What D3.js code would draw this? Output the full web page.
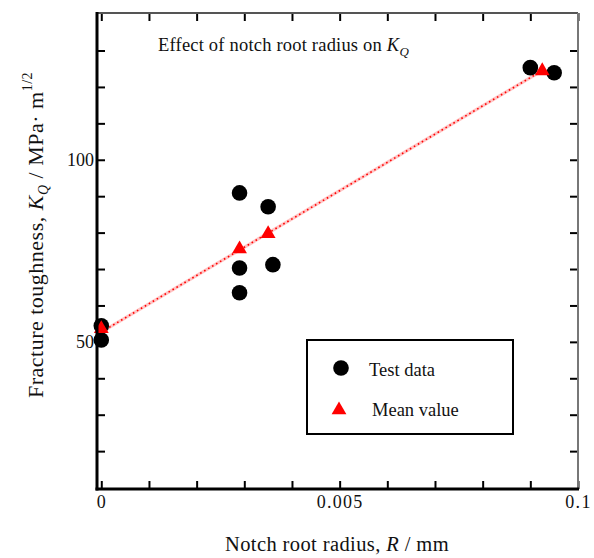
<!DOCTYPE html>
<html>
<head>
<meta charset="utf-8">
<script src="https://cdn.jsdelivr.net/npm/d3@7"></script>
<style>
  html, body { margin: 0; padding: 0; background: #fff; }
  svg text { font-family: "Liberation Serif", "Times New Roman", serif; fill: #111; }
</style>
</head>
<body>
<svg id="chart" width="594" height="558"></svg>
<script>
// ---- data ----
const testR = [0, 0, 0.0029, 0.0029, 0.0029, 0.0035, 0.0036, 0.0090, 0.0095];
const testK = [54.4, 50.5, 90.9, 70.3, 63.5, 87.1, 71.2, 125.3, 123.9];
const meanR = [0, 0.0029, 0.0035, 0.00925];
const meanK = [53.6, 75.5, 79.7, 124.4];
const fitR = [0, 0.00925];
const fitK = [52.7, 124.5];

const xTickMarks = [0, 0.001, 0.002, 0.003, 0.004, 0.005, 0.006, 0.007, 0.008, 0.009, 0.01];
const xTickValues = [0, 0.005, 0.01];
const xTickLabels = ["0", "0.005", "0.1"];
const yTickMarks = [20, 30, 40, 50, 60, 70, 80, 90, 100, 110, 120, 130];
const yTickValues = [50, 100];
const yTickLabels = ["50", "100"];

const xDomain = [-0.00009, 0.01];
const yDomain = [9.6, 140.3];

// ---- layout ----
const svg = d3.select("#chart");
const L = 97, R = 578, T = 13, B = 489;
const x = d3.scaleLinear().domain(xDomain).range([L, R]);
const y = d3.scaleLinear().domain(yDomain).range([B, T]);
const tickLen = 8;

// regression line
const fit = fitR.map((r, i) => [r, fitK[i]]);
const line = d3.line().x(d => x(d[0])).y(d => y(d[1]));
svg.append("path").datum(fit).attr("d", line)
  .attr("fill", "none").attr("stroke", "rgba(255,90,90,0.35)").attr("stroke-width", 3.2);
svg.append("path").datum(fit).attr("d", line)
  .attr("fill", "none").attr("stroke", "#ff0000").attr("stroke-width", 1.6)
  .attr("stroke-dasharray", "1.6,3");

// test data
svg.append("g").selectAll("circle").data(testR.map((r, i) => [r, testK[i]]))
  .join("circle")
  .attr("cx", d => x(d[0])).attr("cy", d => y(d[1])).attr("r", 7.8).attr("fill", "#000");

// mean values
const tri = d3.symbol().type(d3.symbolTriangle).size(95);
svg.append("g").selectAll("path").data(meanR.map((r, i) => [r, meanK[i]]))
  .join("path")
  .attr("d", tri)
  .attr("transform", d => `translate(${x(d[0])},${y(d[1])})`)
  .attr("fill", "#ff0000");

// ---- axes ----
function styleAxis(g, w) {
  g.select(".domain").remove();
  g.selectAll(".tick line").attr("stroke", "#000").attr("stroke-width", w);
}
// bottom
const gB = svg.append("g").attr("transform", `translate(0,${B})`)
  .call(d3.axisBottom(x).tickValues(xTickMarks).tickSize(-tickLen).tickSizeOuter(0)
    .tickFormat(d => { const i = xTickValues.findIndex(v => Math.abs(v - d) < 1e-9); return i >= 0 ? xTickLabels[i] : ""; })
    .tickPadding(6));
styleAxis(gB, 2);
gB.selectAll("text").attr("font-size", 18).attr("letter-spacing", 1.3).attr("dy", "0.71em");
// top
const gT = svg.append("g").attr("transform", `translate(0,${T})`)
  .call(d3.axisTop(x).tickValues(xTickMarks).tickSize(-tickLen).tickSizeOuter(0).tickFormat(""));
styleAxis(gT, 2);
// left
const gL = svg.append("g").attr("transform", `translate(${L},0)`)
  .call(d3.axisLeft(y).tickValues(yTickMarks).tickSize(-tickLen).tickSizeOuter(0)
    .tickFormat(d => { const i = yTickValues.indexOf(d); return i >= 0 ? yTickLabels[i] : ""; })
    .tickPadding(3));
styleAxis(gL, 2);
gL.selectAll("text").attr("font-size", 18);
// right
const gR = svg.append("g").attr("transform", `translate(${R},0)`)
  .call(d3.axisRight(y).tickValues(yTickMarks).tickSize(-tickLen).tickSizeOuter(0).tickFormat(""));
styleAxis(gR, 2);

// frame
svg.append("line").attr("x1", L).attr("x2", R).attr("y1", T).attr("y2", T)
  .attr("stroke", "#555").attr("stroke-width", 2);
svg.append("line").attr("x1", R).attr("x2", R).attr("y1", T).attr("y2", B)
  .attr("stroke", "#777").attr("stroke-width", 2);
svg.append("line").attr("x1", L).attr("x2", L).attr("y1", T - 1).attr("y2", B + 1.5)
  .attr("stroke", "#000").attr("stroke-width", 3);
svg.append("line").attr("x1", L - 1.5).attr("x2", R + 1).attr("y1", B).attr("y2", B)
  .attr("stroke", "#000").attr("stroke-width", 3);

// title
const title = svg.append("text").attr("x", 158).attr("y", 51).attr("font-size", 18.5).attr("letter-spacing", 0.2);
title.append("tspan").text("Effect of notch root radius on ");
title.append("tspan").attr("font-style", "italic").text("K");
title.append("tspan").attr("font-style", "italic").attr("font-size", 13).attr("dy", 5).text("Q");

// axis labels
svg.append("text").attr("x", 337).attr("y", 551).attr("text-anchor", "middle")
  .attr("font-size", 20.5).attr("letter-spacing", 0.4)
  .call(t => {
    t.append("tspan").text("Notch root radius, ");
    t.append("tspan").attr("font-style", "italic").text("R");
    t.append("tspan").text(" / mm");
  });

const yl = svg.append("text").attr("transform", "translate(43,235) rotate(-90)")
  .attr("text-anchor", "middle").attr("font-size", 22).attr("letter-spacing", 0.5);
yl.append("tspan").text("Fracture toughness, ");
yl.append("tspan").attr("font-style", "italic").text("K");
yl.append("tspan").attr("font-style", "italic").attr("font-size", 14).attr("dy", 5).text("Q");
yl.append("tspan").attr("dy", -5).text(" / MPa\u00B7 m");
yl.append("tspan").attr("font-size", 14).attr("dy", -11).text("1/2");

// legend
svg.append("rect").attr("x", 307).attr("y", 340).attr("width", 206).attr("height", 94)
  .attr("fill", "#fff").attr("stroke", "#000").attr("stroke-width", 2);
svg.append("circle").attr("cx", 341).attr("cy", 368).attr("r", 7.8).attr("fill", "#000");
svg.append("text").attr("x", 369).attr("y", 376).attr("font-size", 18.5).text("Test data");
svg.append("path").attr("d", tri).attr("transform", "translate(339,410)").attr("fill", "#ff0000");
svg.append("text").attr("x", 372).attr("y", 416).attr("font-size", 18.5).text("Mean value");
</script>
</body>
</html>
